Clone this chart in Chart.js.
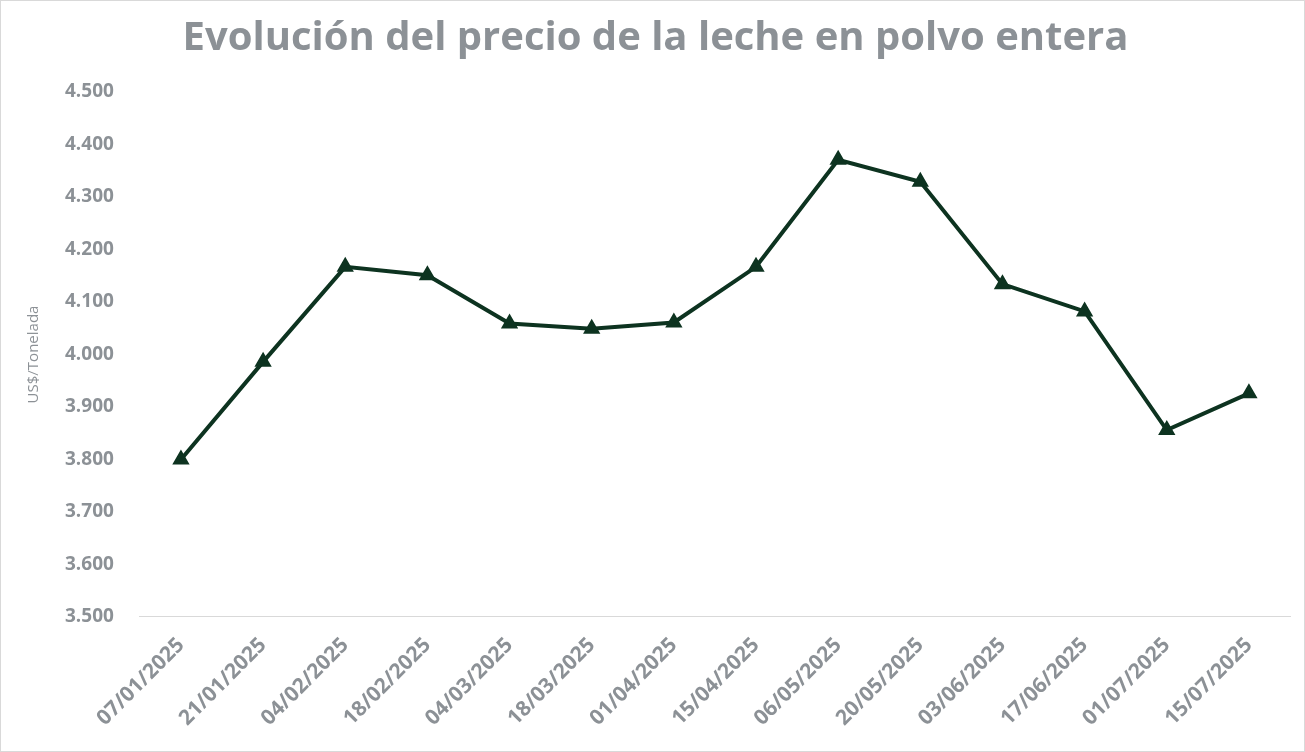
<!DOCTYPE html>
<html>
<head>
<meta charset="utf-8">
<script src="https://cdn.jsdelivr.net/npm/chart.js@4"></script>
<style>
  html, body { margin: 0; padding: 0; background: #fff; }
  #wrap { width: 1303px; height: 750px; border: 1px solid #d9d9d9; }
</style>
</head>
<body>
<div id="wrap"><canvas id="leche" width="1303" height="750"></canvas></div>
<script>
let fechas = ['07/01/2025', '21/01/2025', '04/02/2025', '18/02/2025', '04/03/2025', '18/03/2025', '01/04/2025',
    '15/04/2025', '06/05/2025', '20/05/2025', '03/06/2025', '17/06/2025', '01/07/2025', '15/07/2025'];
let precios = [3800, 3986, 4167, 4151, 4059, 4049, 4061, 4167, 4371, 4329, 4134, 4082, 3856, 3926];

function miles(v) {
    return String(v).replace(/\B(?=(\d{3})+(?!\d))/g, '.');
}

let gris = '#8c9196';
let ctx = document.getElementById('leche').getContext('2d');
new Chart(ctx, {
    type: 'line',
    data: {
        labels: fechas,
        datasets: [{
            data: precios,
            borderColor: '#0d3320',
            backgroundColor: '#0d3320',
            borderWidth: 4,
            pointStyle: 'triangle',
            pointRadius: 6,
            tension: 0
        }]
    },
    options: {
        responsive: false,
        animation: false,
        layout: { padding: { left: 20, right: 14, top: 10, bottom: 12 } },
        plugins: {
            legend: { display: false },
            title: {
                display: true,
                text: 'Evolución del precio de la leche en polvo entera',
                color: gris,
                font: { family: 'Open Sans', size: 40, weight: 'bold' },
                padding: { top: 4, bottom: 29 }
            }
        },
        scales: {
            y: {
                min: 3500,
                max: 4500,
                ticks: {
                    stepSize: 100,
                    color: gris,
                    padding: 18,
                    font: { family: 'Open Sans', size: 19, weight: 'bold' },
                    callback: v => miles(v)
                },
                grid: { display: false },
                border: { display: false },
                title: {
                    display: true,
                    text: 'US$/Tonelada',
                    color: gris,
                    font: { family: 'Open Sans', size: 15 }
                }
            },
            x: {
                offset: true,
                ticks: {
                    color: gris,
                    maxRotation: 45,
                    minRotation: 45,
                    padding: 8,
                    font: { family: 'Open Sans', size: 21, weight: 'bold' }
                },
                grid: { display: false, offset: true },
                border: { color: '#d9d9d9' }
            }
        }
    }
});
</script>
</body>
</html>
